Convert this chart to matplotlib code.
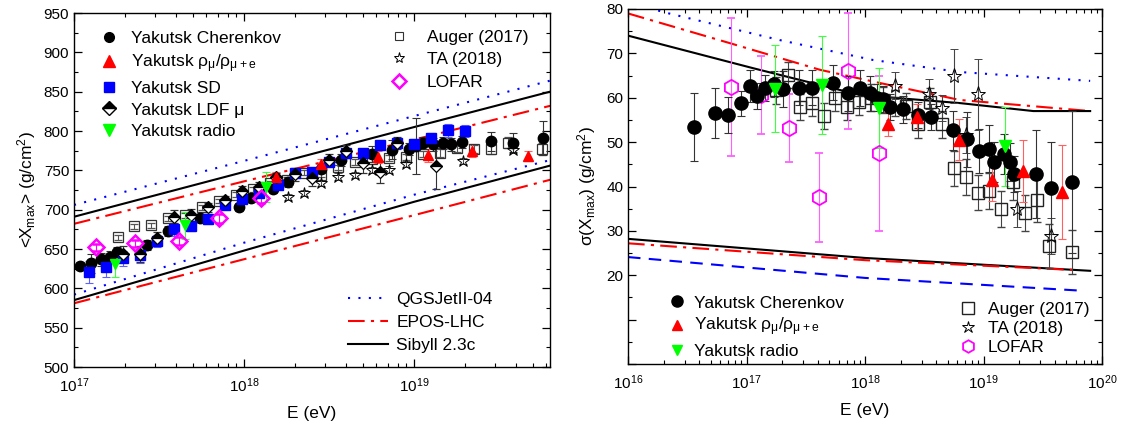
import matplotlib
matplotlib.use('Agg')
from matplotlib import pyplot as plt
from matplotlib.lines import Line2D
from matplotlib.ticker import MultipleLocator, LogLocator, NullFormatter, FuncFormatter

plt.rcParams['font.family'] = ['Liberation Sans', 'DejaVu Sans']
plt.rcParams['mathtext.fontset'] = 'custom'
plt.rcParams['mathtext.rm'] = 'Liberation Sans'
plt.rcParams['mathtext.it'] = 'Liberation Sans:italic'
plt.rcParams['mathtext.bf'] = 'Liberation Sans:bold'

# ---------------- left panel: <Xmax> (log10 E, g/cm2) ----------------
cher_lg = [17.035, 17.10, 17.16, 17.21, 17.25, 17.43, 17.55, 17.74, 17.97, 18.04, 18.17, 18.26, 18.45,
           18.57, 18.75, 18.87, 18.97, 19.01, 19.05, 19.11, 19.17, 19.22, 19.28, 19.45, 19.58, 19.76]
cher_x = [628, 632, 637, 640, 646, 655, 673, 689, 703, 715, 726, 735, 752,
          763, 771, 776, 777, 781, 785, 783, 785, 783, 786, 787, 785, 791]
cher_xe = [5, 12, 8, 8, 6, 6, 6, 5, 5, 5, 5, 6, 6, 8, 10, 12, 8, 36, 8, 8, 8, 8, 8, 12, 12, 22]

rho_lg = [18.19, 18.45, 18.79, 19.08, 19.34, 19.67]
rho_x = [742, 758, 767, 769, 775, 768]
rho_xe = [6, 6, 8, 8, 8, 6]

sd_lg = [17.09, 17.19, 17.29, 17.39, 17.49, 17.59, 17.69, 17.79, 17.89, 17.99, 18.09, 18.2,
         18.3, 18.4, 18.5, 18.6, 18.7, 18.8, 18.9, 19.0, 19.1, 19.2, 19.3]
sd_x = [621, 627, 638, 642, 660, 675, 679, 688, 706, 713, 721, 731,
        747, 748, 760, 772, 772, 782, 785, 784, 791, 801, 800]
sd_xe = [14, 12, 10, 10, 8, 8, 6, 6, 5, 5, 5, 5, 5, 5, 5, 5, 5, 6, 6, 6, 6, 8, 8]

ldf_lg = [17.29, 17.39, 17.49, 17.59, 17.69, 17.79, 17.89, 17.99, 18.09, 18.19, 18.3, 18.4,
          18.5, 18.6, 18.7, 18.8, 18.9, 19.13]
ldf_x = [644, 644, 664, 691, 693, 703, 712, 724, 729, 741, 745, 740, 763, 774, 759, 748, 785, 756]
ldf_xe = [10, 10, 8, 8, 8, 6, 6, 6, 6, 6, 8, 10, 8, 8, 12, 14, 8, 30]

radio_lg = [17.24, 17.65, 18.13]
radio_x = [631, 680, 729]
radio_xe = [17, 17, 19]

lofar_lg = [17.13, 17.36, 17.62, 17.85, 18.10]
lofar_x = [652, 657, 660, 689, 715]
lofar_xe = [4, 5, 5, 6, 7]

auger_lg = [17.26, 17.35, 17.45, 17.55, 17.65, 17.75, 17.85, 17.95, 18.05, 18.15, 18.25, 18.35, 18.45,
            18.55, 18.65, 18.75, 18.85, 18.95, 19.05, 19.15, 19.25, 19.35, 19.45, 19.55, 19.75]
auger_x = [665, 679, 680, 689, 693, 703, 711, 719, 726, 734, 738, 747, 744,
           754, 761, 764, 766, 767, 771, 772, 778, 777, 777, 785, 777]
auger_xe = [3, 3, 3, 3, 3, 3, 3, 3, 3, 3, 3, 3, 3, 3, 4, 4, 4, 4, 4, 5, 5, 5, 6, 7, 8]

ta_lg = [18.26, 18.35, 18.45, 18.55, 18.65, 18.75, 18.85, 18.95, 19.29, 19.58]
ta_x = [716, 721, 734, 742, 744, 750, 751, 758, 762, 776]

# model bands (proton / iron)
mod_lg = [17.0, 18.0, 19.0, 19.8]
qgs_hi = [706, 762, 819, 864]
qgs_lo = [592, 658, 719, 763]
epos_hi = [682, 736, 789, 832]
epos_lo = [581, 637, 693, 738]
sib_hi = [691, 748, 805, 850]
sib_lo = [585, 648, 710, 756]

# ---------------- right panel: sigma(Xmax) ----------------
cher_lg_r = [16.56, 16.73, 16.84, 16.95, 17.03, 17.09, 17.16, 17.23, 17.31, 17.44, 17.55, 17.73, 17.86,
             17.96, 18.04, 18.10, 18.15, 18.21, 18.32, 18.45, 18.56, 18.74, 18.86, 18.96, 19.05, 19.09,
             19.17, 19.22, 19.26, 19.44, 19.57, 19.75]
cher_s = [53.4, 56.6, 56.1, 58.8, 62.6, 60.4, 62.2, 63.1, 62.0, 62.3, 62.3, 63.4, 61.0,
          62.2, 61.0, 60.0, 59.7, 57.9, 57.4, 56.1, 55.7, 52.7, 50.7, 48.0, 48.5, 45.5,
          47.3, 45.5, 42.8, 42.8, 39.7, 41.0]
cher_se = [7.7, 5.7, 4.1, 2.8, 3.6, 3, 3, 3, 4, 4, 4, 4, 4,
           4, 4, 3, 3, 3, 3, 3, 3, 4.4, 6.2, 4.9, 5.3, 4.5,
           4.5, 4.3, 4.1, 10, 10.4, 16]

rho_lg_r = [18.19, 18.44, 18.79, 19.07, 19.33, 19.66]
rho_s = [54.1, 55.7, 50.5, 41.5, 43.5, 38.7]
rho_se = [2.8, 2.9, 4.6, 4.7, 7, 10.6]

radio_lg_r = [17.24, 17.64, 18.12, 19.18]
radio_s = [62.0, 62.9, 57.7, 49.1]
radio_se = [9.8, 11, 9, 8.9]

lofar_lg_r = [16.87, 17.12, 17.36, 17.61, 17.86, 18.12]
lofar_s = [62.4, 60.6, 53.2, 37.6, 66.0, 47.5]
lofar_se = [15.5, 8.8, 7.7, 10, 13, 17.5]

auger_lg_r = [17.25, 17.35, 17.45, 17.55, 17.65, 17.75, 17.85, 17.95, 18.05, 18.15, 18.25, 18.35, 18.45,
              18.55, 18.65, 18.75, 18.85, 18.95, 19.05, 19.15, 19.25, 19.35, 19.45, 19.55, 19.75]
auger_s = [61.7, 65.1, 57.9, 58.9, 55.9, 60.0, 57.9, 59.1, 60.0, 59.5, 58.8, 58.1, 54.0,
           59.1, 54.0, 44.1, 42.1, 38.6, 39.0, 34.9, 41.0, 34.0, 37.0, 26.6, 25.3]
auger_se = [3, 3, 3, 3, 3, 3, 3, 3, 3, 3, 3, 3, 3, 3, 3, 4, 4, 4, 4, 4, 4, 4, 5, 5, 5]

ta_lg_r = [18.25, 18.54, 18.65, 18.75, 18.85, 18.95, 19.28, 19.57]
ta_s = [62.7, 60.8, 57.7, 64.9, 51.6, 60.8, 34.9, 28.8]
ta_se = [3, 3.4, 3, 6, 4, 8, 4, 4]

qgs_hi_lg_r = [16.0, 16.33, 17.28, 18.07, 18.80, 19.9]
qgs_hi_r = [81.5, 79.1, 73.0, 68.5, 65.8, 63.8]
epos_hi_lg_r = [16.0, 16.86, 17.62, 18.13, 18.80, 19.9]
epos_hi_r = [79.0, 72.3, 66.3, 63.3, 59.5, 57.0]
sib_hi_lg_r = [16.0, 17.05, 17.96, 18.80, 19.42, 19.9]
sib_hi_r = [74.0, 66.7, 60.6, 58.8, 57.0, 57.0]
sib_lo_lg_r = [16.0, 18.0, 19.9]
sib_lo_r = [28.2, 23.9, 21.0]
epos_lo_lg_r = [16.0, 18.0, 19.6, 19.76]
epos_lo_r = [27.2, 23.4, 21.4, 21.2]
qgs_lo_lg_r = [16.0, 18.0, 19.84]
qgs_lo_r = [24.1, 19.4, 16.5]

BLUE = '#0000ff'
RED = '#ff0000'
GREEN = '#00ff00'
MAG = '#ff00ff'
QGS_LS = (0, (1, 4))
EPOS_LS = (0, (8, 3, 1.5, 3))
FS = 12.5


def E(lg):
    return [10 ** v for v in lg]


def eb(ax, lg, y, ye, ecol, **kw):
    ax.errorbar(E(lg), y, yerr=ye, ls='none', ecolor=ecol, elinewidth=0.8,
                capsize=3, capthick=0.8, **kw)


def style_axis(ax):
    ax.set_xscale('log')
    ax.xaxis.set_minor_locator(LogLocator(base=10, subs=range(2, 10), numticks=20))
    ax.xaxis.set_minor_formatter(NullFormatter())
    ax.tick_params(which='both', direction='in', top=True, right=True, labelsize=11)
    ax.tick_params(axis='x', which='major', pad=7)
    ax.tick_params(which='major', length=6, width=0.9)
    ax.tick_params(which='minor', length=3, width=0.8)
    for s in ax.spines.values():
        s.set_linewidth(1.0)


fig = plt.figure(figsize=(11.27, 4.30), dpi=100)
ax1 = fig.add_axes([74 / 1127, 1 - 367 / 430, 476 / 1127, 354 / 430])
ax2 = fig.add_axes([628 / 1127, 1 - 364 / 430, 474 / 1127, 355 / 430])

# ---- left
for hi, lo, c, ls in [(qgs_hi, qgs_lo, BLUE, QGS_LS), (epos_hi, epos_lo, RED, EPOS_LS),
                      (sib_hi, sib_lo, 'k', '-')]:
    ax1.plot(E(mod_lg), hi, color=c, ls=ls, lw=1.5)
    ax1.plot(E(mod_lg), lo, color=c, ls=ls, lw=1.5)

eb(ax1, auger_lg, auger_x, auger_xe, '#555555', marker='s', ms=7, mfc='none', mec='#333333', mew=0.9)
eb(ax1, ta_lg, ta_x, [4] * len(ta_x), '#555555', marker='*', ms=9, mfc='none', mec='k', mew=0.7)
eb(ax1, cher_lg, cher_x, cher_xe, '#333333', marker='o', ms=7.5, color='k')
eb(ax1, sd_lg, sd_x, sd_xe, '#6060ff', marker='s', ms=6.5, color=BLUE)
eb(ax1, ldf_lg, ldf_x, ldf_xe, '#333333', marker='D', ms=6.5, color='k', mfc='k',
   fillstyle='top', markerfacecoloralt='white', mec='k', mew=0.9)
eb(ax1, rho_lg, rho_x, rho_xe, '#ff6060', marker='^', ms=7.5, color=RED)
eb(ax1, radio_lg, radio_x, radio_xe, '#40ff40', marker='v', ms=7.5, color=GREEN)
eb(ax1, lofar_lg, lofar_x, lofar_xe, MAG, marker='D', ms=8, mfc='none', mec=MAG, mew=1.8)

style_axis(ax1)
ax1.set_xlim(1e17, 6.3e19)
ax1.set_ylim(500, 950)
ax1.yaxis.set_major_locator(MultipleLocator(50))
ax1.yaxis.set_minor_locator(MultipleLocator(25))
ax1.set_xlabel('E (eV)', fontsize=FS, labelpad=8)
ax1.set_ylabel(r'<X$_\mathrm{max}$> (g/cm$^2$)', fontsize=FS, labelpad=4)

h1 = [Line2D([], [], ls='none', marker='o', color='k', ms=7),
      Line2D([], [], ls='none', marker='^', color=RED, ms=8),
      Line2D([], [], ls='none', marker='s', color=BLUE, ms=7),
      Line2D([], [], ls='none', marker='D', color='k', ms=7, fillstyle='top',
             markerfacecoloralt='white', mec='k'),
      Line2D([], [], ls='none', marker='v', color=GREEN, ms=8)]
l1 = ['Yakutsk Cherenkov', r'Yakutsk ρ$_\mathrm{μ}$/ρ$_\mathrm{μ+e}$', 'Yakutsk SD',
      'Yakutsk LDF μ', 'Yakutsk radio']
leg = ax1.legend(h1, l1, loc='upper left', bbox_to_anchor=(0.055, 0.95), frameon=False,
                 fontsize=FS, handlelength=1.0, handletextpad=0.75, labelspacing=0.36,
                 borderpad=0, borderaxespad=0)
ax1.add_artist(leg)

h2 = [Line2D([], [], ls='none', marker='s', mfc='none', mec='#333333', ms=6, mew=0.8),
      Line2D([], [], ls='none', marker='*', mfc='none', mec='k', ms=8, mew=0.7),
      Line2D([], [], ls='none', marker='D', mfc='none', mec=MAG, ms=7.5, mew=1.8)]
leg = ax1.legend(h2, ['Auger (2017)', 'TA (2018)', 'LOFAR'], loc='upper left',
                 bbox_to_anchor=(0.665, 0.953), frameon=False, fontsize=FS, handlelength=1.0,
                 handletextpad=1.1, labelspacing=0.42, borderpad=0, borderaxespad=0)
ax1.add_artist(leg)

h3 = [Line2D([], [], color=BLUE, ls=QGS_LS, lw=1.5),
      Line2D([], [], color=RED, ls=EPOS_LS, lw=1.5),
      Line2D([], [], color='k', lw=1.5)]
ax1.legend(h3, ['QGSJetII-04', 'EPOS-LHC', 'Sibyll 2.3c'], loc='lower left',
           bbox_to_anchor=(0.575, 0.04), frameon=False, fontsize=FS, handlelength=2.3,
           handletextpad=0.5, labelspacing=0.45, borderpad=0, borderaxespad=0)

# ---- right
ax2.plot(E(qgs_hi_lg_r), qgs_hi_r, color=BLUE, ls=QGS_LS, lw=1.5)
ax2.plot(E(epos_hi_lg_r), epos_hi_r, color=RED, ls=EPOS_LS, lw=1.5)
ax2.plot(E(sib_hi_lg_r), sib_hi_r, color='k', lw=1.5)
ax2.plot(E(sib_lo_lg_r), sib_lo_r, color='k', lw=1.5)
ax2.plot(E(epos_lo_lg_r), epos_lo_r, color=RED, ls=EPOS_LS, lw=1.5)
ax2.plot(E(qgs_lo_lg_r), qgs_lo_r, color=BLUE, ls=(0, (6, 4)), lw=1.5)

eb(ax2, auger_lg_r, auger_s, auger_se, '#444444', marker='s', ms=9, mfc='none', mec='#222222', mew=1.0)
eb(ax2, ta_lg_r, ta_s, ta_se, '#444444', marker='*', ms=11, mfc='none', mec='k', mew=0.7)
eb(ax2, lofar_lg_r, lofar_s, lofar_se, '#ff60ff', marker='h', ms=11, mfc='none', mec=MAG, mew=1.3)
eb(ax2, cher_lg_r, cher_s, cher_se, '#333333', marker='o', ms=9.5, color='k')
eb(ax2, rho_lg_r, rho_s, rho_se, '#ff6060', marker='^', ms=9, color=RED)
eb(ax2, radio_lg_r, radio_s, radio_se, '#40ff40', marker='v', ms=9, color=GREEN)

style_axis(ax2)
ax2.set_xlim(1e16, 1e20)
ax2.set_ylim(0, 80)
ax2.yaxis.set_major_locator(MultipleLocator(10))
ax2.yaxis.set_minor_locator(MultipleLocator(5))
ax2.yaxis.set_major_formatter(FuncFormatter(lambda v, p: '' if v < 15 else '%d' % v))
ax2.set_xlabel('E (eV)', fontsize=FS, labelpad=8)
ax2.set_ylabel(r'σ(X$_\mathrm{max}$) (g/cm$^2$)', fontsize=FS, labelpad=6)

h4 = [Line2D([], [], ls='none', marker='o', color='k', ms=8),
      Line2D([], [], ls='none', marker='^', color=RED, ms=7),
      Line2D([], [], ls='none', marker='v', color=GREEN, ms=7)]
leg = ax2.legend(h4, ['Yakutsk Cherenkov', r'Yakutsk ρ$_\mathrm{μ}$/ρ$_\mathrm{μ+e}$', 'Yakutsk radio'],
                 loc='lower left', bbox_to_anchor=(0.085, 0.015), frameon=False, fontsize=FS,
                 handlelength=1.0, handletextpad=0.5, labelspacing=0.3, borderpad=0, borderaxespad=0)
ax2.add_artist(leg)

h5 = [Line2D([], [], ls='none', marker='s', mfc='none', mec='#222222', ms=8, mew=1.0),
      Line2D([], [], ls='none', marker='*', mfc='none', mec='k', ms=9, mew=0.7),
      Line2D([], [], ls='none', marker='h', mfc='none', mec=MAG, ms=9, mew=1.3)]
ax2.legend(h5, ['Auger (2017)', 'TA (2018)', 'LOFAR'], loc='lower left',
           bbox_to_anchor=(0.7, 0.025), frameon=False, fontsize=FS, handlelength=1.0,
           handletextpad=0.6, labelspacing=0.22, borderpad=0, borderaxespad=0)

fig.savefig('out.png', dpi=100)
